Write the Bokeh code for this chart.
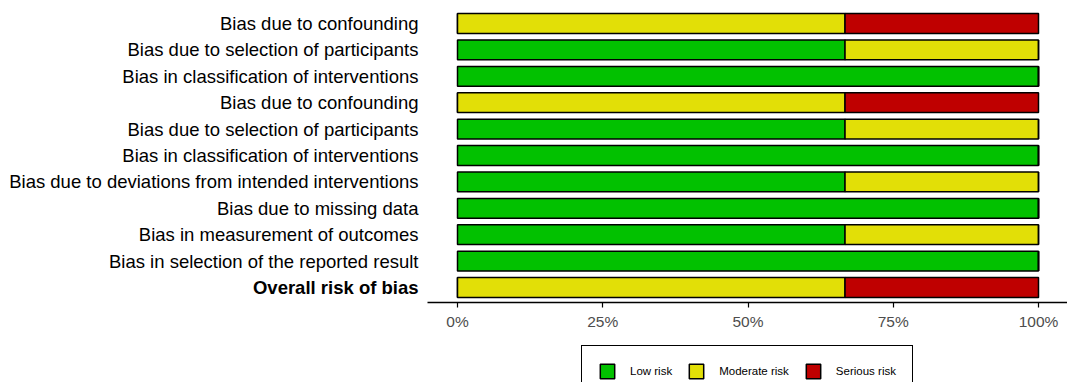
from bokeh.plotting import figure
from bokeh.models import (ColumnDataSource, Range1d, FixedTicker, Legend,
                          LegendItem)
from bokeh.core.properties import value
from bokeh.embed import file_html
from bokeh.resources import INLINE

# ---- data ----
domains = [
    "Bias due to confounding",
    "Bias due to selection of participants",
    "Bias in classification of interventions",
    "Bias due to confounding",
    "Bias due to selection of participants",
    "Bias in classification of interventions",
    "Bias due to deviations from intended interventions",
    "Bias due to missing data",
    "Bias in measurement of outcomes",
    "Bias in selection of the reported result",
    "Overall risk of bias",
]
low_risk      = [0.0, 66.7, 100.0, 0.0, 66.7, 100.0, 66.7, 100.0, 66.7, 100.0, 0.0]
moderate_risk = [66.7, 33.3, 0.0, 66.7, 33.3, 0.0, 33.3, 0.0, 33.3, 0.0, 66.7]
serious_risk  = [33.3, 0.0, 0.0, 33.3, 0.0, 0.0, 0.0, 0.0, 0.0, 0.0, 33.3]
categories = ["Low risk", "Moderate risk", "Serious risk"]
colors = ["#02C100", "#E2DF07", "#BF0000"]
tick_values = [0, 25, 50, 75, 100]
tick_labels = ["0%", "25%", "50%", "75%", "100%"]

n = len(domains)
ypos = list(range(n - 1, -1, -1))
styles = ["bold" if d == "Overall risk of bias" else "normal" for d in domains]

source = ColumnDataSource(dict(y=ypos, low=low_risk, moderate=moderate_risk,
                               serious=serious_risk))

FONT = "Liberation Sans"

# layout geometry (pixels -> data)
px_per_pct = 581 / 100.0
px_per_row = 26.4
x0_px = 457
axis_left = -30 / px_per_pct
x_start = -x0_px / px_per_pct
x_end = (1067 - x0_px) / px_per_pct
axis_y = -15 / px_per_row
y_end = (n - 1) + 23 / px_per_row
y_start = axis_y - 80 / px_per_row

p = figure(width=1067, height=382, output_backend="svg", toolbar_location=None,
           x_range=Range1d(x_start, x_end), y_range=Range1d(y_start, y_end),
           min_border_left=0, min_border_top=0, min_border_right=0,
           min_border_bottom=0)
p.outline_line_color = None
p.xgrid.visible = False
p.ygrid.visible = False
p.yaxis.visible = False

renderers = p.hbar_stack(["low", "moderate", "serious"], y="y", height=0.75,
                         fill_color=colors, line_color="black", line_width=1.5,
                         source=source)

# domain labels
lab_src = ColumnDataSource(dict(x=[axis_left] * n, y=ypos, text=domains,
                                style=styles))
p.text(x="x", y="y", text="text", source=lab_src, x_offset=-9,
       text_align="right", text_baseline="middle", text_font=value(FONT),
       text_font_size="18.5px", text_font_style="style", text_color="black")

# x axis
xa = p.xaxis[0]
xa.fixed_location = axis_y
xa.bounds = (axis_left, x_end)
xa.ticker = FixedTicker(ticks=tick_values)
xa.major_label_overrides = {v: l for v, l in zip(tick_values, tick_labels)}
xa.axis_line_color = "black"
xa.axis_line_width = 1.5
xa.major_tick_line_color = "black"
xa.major_tick_line_width = 1.2
xa.major_tick_out = 5
xa.major_tick_in = 0
xa.minor_tick_line_color = None
xa.major_label_text_font = FONT
xa.major_label_text_font_size = "15.5px"
xa.major_label_text_color = "#4D4D4D"
xa.major_label_standoff = 5

legend = Legend(items=[LegendItem(label=c, renderers=[r])
                       for c, r in zip(categories, renderers)],
                orientation="horizontal", location=(581, -15),
                glyph_width=18, glyph_height=18, label_standoff=14,
                spacing=15, padding=16, label_text_font=FONT,
                label_text_font_size="11.5px", label_text_color="black",
                border_line_color="black", border_line_width=1.2,
                border_line_alpha=1.0, background_fill_color="white",
                background_fill_alpha=1.0)
p.add_layout(legend, "center")

open("out.html", "w").write(file_html(p, INLINE))
